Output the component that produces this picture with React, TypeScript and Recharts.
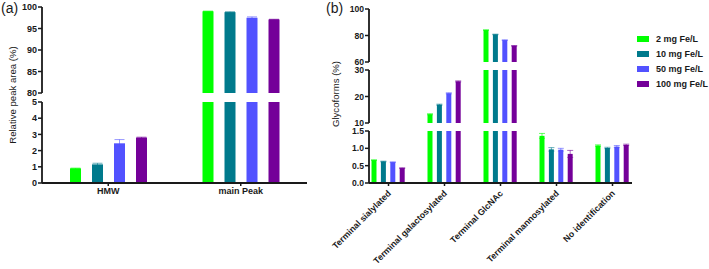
import { BarChart, Bar, XAxis, YAxis, ErrorBar } from "recharts";

const doses = ["2 mg Fe/L", "10 mg Fe/L", "50 mg Fe/L", "100 mg Fe/L"];
const doseColors = ["#00ff00", "#007a8c", "#5252ff", "#740099"];

// panel (a)
const peakCategories = ["HMW", "main Peak"];
const peak2 = [0.9, 99.0];
const peak10 = [1.15, 98.8];
const peak50 = [2.45, 97.5];
const peak100 = [2.8, 97.1];
const peakErr2 = [0.02, 0.05];
const peakErr10 = [0.07, 0.1];
const peakErr50 = [0.23, 0.2];
const peakErr100 = [0.03, 0.05];

// panel (b)
const glycoCategories = [
  "Terminal sialylated",
  "Terminal galactosylated",
  "Terminal GlcNAc",
  "Terminal mannosylated",
  "No identification",
];
const glyco2 = [0.66, 13.3, 84.1, 1.36, 1.08];
const glyco10 = [0.62, 16.9, 80.8, 0.97, 1.01];
const glyco50 = [0.6, 21.2, 76.5, 0.96, 1.05];
const glyco100 = [0.43, 25.7, 72.2, 0.84, 1.1];
const glycoErr2 = [0.01, 0.2, 0.2, 0.07, 0.02];
const glycoErr10 = [0.01, 0.2, 0.2, 0.05, 0.02];
const glycoErr50 = [0.01, 0.2, 0.2, 0.04, 0.03];
const glycoErr100 = [0.01, 0.2, 0.2, 0.1, 0.02];

const peakSeries = [peak2, peak10, peak50, peak100];
const peakErrs = [peakErr2, peakErr10, peakErr50, peakErr100];
const glycoSeries = [glyco2, glyco10, glyco50, glyco100];
const glycoErrs = [glycoErr2, glycoErr10, glycoErr50, glycoErr100];

const FONT = "'Liberation Sans', Arial, sans-serif";
const INK = "#1a1a1a";

// rows for one segment of a broken axis
function segmentRows(cats: string[], series: number[][], errs: number[][], lo: number, hi: number) {
  return cats.map((name, i) => {
    const row: Record<string, any> = { name };
    series.forEach((s, k) => {
      const v = s[i];
      row["s" + k] = v >= lo ? v : null;
      row["e" + k] = v >= lo && v <= hi ? errs[k][i] : null;
    });
    return row;
  });
}

const tickStyleA = { fontSize: 9, fontWeight: 700, fill: INK, fontFamily: FONT };
const tickStyleB = { fontSize: 8.6, fontWeight: 700, fill: INK, fontFamily: FONT };

function RotatedTick(props: any) {
  const { x, y, payload } = props;
  const ax = x + 3;
  const ay = y + 6;
  return (
    <text
      x={ax}
      y={ay}
      transform={`rotate(-45, ${ax}, ${ay})`}
      textAnchor="end"
      fontSize={8.8}
      fontWeight={700}
      fill={INK}
      fontFamily={FONT}
    >
      {payload.value}
    </text>
  );
}

type SegProps = {
  cats: string[];
  series: number[][];
  errs: number[][];
  domain: [number, number];
  ticks: number[];
  top: number;
  left: number;
  width: number;
  yWidth: number;
  plotH: number;
  marginTop: number;
  marginBottom: number;
  xAxis?: "plain" | "rotated";
  xHeight?: number;
  barSize: number;
  barGap: number;
  capWidth: number;
  xPad?: number;
  tickStyle: any;
  fmt?: (v: number) => string;
};

function Segment(p: SegProps) {
  const rows = segmentRows(p.cats, p.series, p.errs, p.domain[0], p.domain[1]);
  const xh = p.xAxis ? p.xHeight ?? 20 : 0;
  const height = p.marginTop + p.plotH + xh + p.marginBottom;
  return (
    <div style={{ position: "absolute", left: p.left, top: p.top }}>
      <BarChart
        width={p.width}
        height={height}
        data={rows}
        margin={{ top: p.marginTop, right: 3, left: 0, bottom: p.marginBottom }}
        barSize={p.barSize}
        barGap={p.barGap}
      >
        <XAxis
          dataKey="name"
          hide={!p.xAxis}
          height={xh}
          padding={{ left: p.xPad ?? 0, right: p.xPad ?? 0 }}
          axisLine={{ stroke: INK, strokeWidth: 1.8 }}
          tickLine={{ stroke: INK, strokeWidth: 1.5 }}
          tickSize={3}
          tickMargin={2}
          interval={0}
          tick={p.xAxis === "rotated" ? <RotatedTick /> : p.tickStyle}
        />
        <YAxis
          type="number"
          domain={p.domain}
          ticks={p.ticks}
          allowDataOverflow
          width={p.yWidth}
          axisLine={{ stroke: INK, strokeWidth: 1.8 }}
          tickLine={{ stroke: INK, strokeWidth: 1.5 }}
          tickSize={4}
          tickMargin={1}
          interval={0}
          tick={p.tickStyle}
          tickFormatter={p.fmt}
        />
        {p.series.map((_, k) => (
          <Bar key={k} dataKey={"s" + k} fill={doseColors[k]} isAnimationActive={false}>
            <ErrorBar
              dataKey={"e" + k}
              direction="y"
              width={p.capWidth}
              stroke={doseColors[k]}
              strokeWidth={1}
              strokeOpacity={0.6}
            />
          </Bar>
        ))}
      </BarChart>
    </div>
  );
}

export default function App() {
  const aCommon = {
    cats: peakCategories,
    series: peakSeries,
    errs: peakErrs,
    left: 0,
    width: 310,
    yWidth: 42,
    barSize: 11,
    barGap: 11,
    capWidth: 5,
    tickStyle: tickStyleA,
  };
  const bCommon = {
    cats: glycoCategories,
    series: glycoSeries,
    errs: glycoErrs,
    left: 329,
    width: 306,
    yWidth: 40,
    barSize: 5,
    barGap: 4.4,
    capWidth: 3,
    xPad: -8.5,
    tickStyle: tickStyleB,
  };
  return (
    <div
      style={{
        position: "absolute",
        left: 0,
        top: 0,
        width: 709,
        height: 269,
        background: "#fff",
        fontFamily: FONT,
        overflow: "hidden",
      }}
    >
      {/* panel (a) */}
      <Segment {...aCommon} domain={[80, 100]} ticks={[80, 85, 90, 95, 100]} top={0} plotH={86} marginTop={7} marginBottom={4} />
      <Segment
        {...aCommon}
        domain={[0, 5]}
        ticks={[0, 1, 2, 3, 4, 5]}
        top={95}
        plotH={81}
        marginTop={7}
        marginBottom={0}
        xAxis="plain"
        xHeight={20}
      />
      <div style={{ position: "absolute", left: 1, top: 0, fontSize: 14, color: INK }}>(a)</div>
      <div
        style={{
          position: "absolute",
          left: 12,
          top: 95,
          transform: "translate(-50%, -50%) rotate(-90deg)",
          fontSize: 9.6,
          whiteSpace: "nowrap",
          color: INK,
        }}
      >
        Relative peak area (%)
      </div>

      {/* panel (b) */}
      <Segment {...bCommon} domain={[60, 100]} ticks={[60, 80, 100]} top={0} plotH={53} marginTop={9} marginBottom={4} />
      <Segment {...bCommon} domain={[10, 30]} ticks={[10, 20, 30]} top={64} plotH={53} marginTop={6} marginBottom={4} />
      <Segment
        {...bCommon}
        domain={[0, 1.5]}
        ticks={[0, 0.5, 1, 1.5]}
        fmt={(v) => v.toFixed(1)}
        top={125}
        plotH={52}
        marginTop={6}
        marginBottom={0}
        xAxis="rotated"
        xHeight={86}
      />
      <div style={{ position: "absolute", left: 326, top: 0, fontSize: 14, color: INK }}>(b)</div>
      <div
        style={{
          position: "absolute",
          left: 335,
          top: 94,
          transform: "translate(-50%, -50%) rotate(-90deg)",
          fontSize: 9.6,
          whiteSpace: "nowrap",
          color: INK,
        }}
      >
        Glycoforms (%)
      </div>

      {/* legend */}
      <div style={{ position: "absolute", left: 637, top: 31 }}>
        {doses.map((d, k) => (
          <div key={d} style={{ display: "flex", alignItems: "center", height: 15 }}>
            <span style={{ width: 12, height: 6, background: doseColors[k], marginRight: 7 }} />
            <span style={{ fontSize: 9, fontWeight: 700, color: INK }}>{d}</span>
          </div>
        ))}
      </div>
    </div>
  );
}
